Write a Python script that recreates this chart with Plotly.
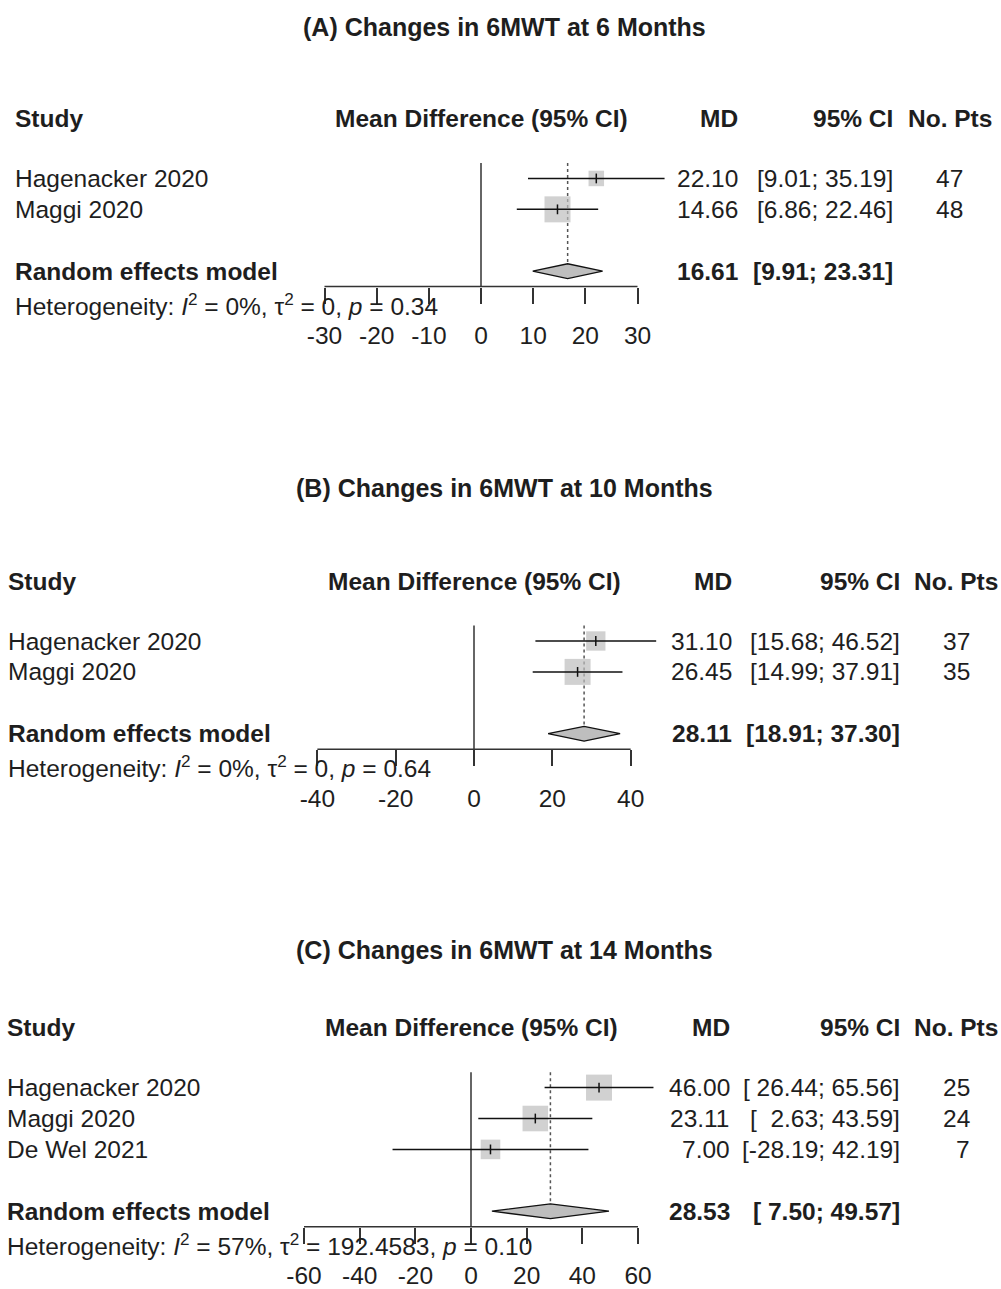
import math
import plotly.graph_objects as go

# ---------------- data ----------------
# (A) 6 months
a_title = "(A) Changes in 6MWT at 6 Months"
a_studies = ["Hagenacker 2020", "Maggi 2020"]
a_md = [22.10, 14.66]
a_lower = [9.01, 6.86]
a_upper = [35.19, 22.46]
a_pts = [47, 48]
a_ci_text = ["[9.01; 35.19]", "[6.86; 22.46]"]
a_pooled = [16.61, 9.91, 23.31]
a_pooled_ci_text = "[9.91; 23.31]"
a_i2 = "0%"
a_tau2 = 0.0
a_tau2_text = "0"
a_p = "0.34"
a_ticks = [-30, -20, -10, 0, 10, 20, 30]

# (B) 10 months
b_title = "(B) Changes in 6MWT at 10 Months"
b_studies = ["Hagenacker 2020", "Maggi 2020"]
b_md = [31.10, 26.45]
b_lower = [15.68, 14.99]
b_upper = [46.52, 37.91]
b_pts = [37, 35]
b_ci_text = ["[15.68; 46.52]", "[14.99; 37.91]"]
b_pooled = [28.11, 18.91, 37.30]
b_pooled_ci_text = "[18.91; 37.30]"
b_i2 = "0%"
b_tau2 = 0.0
b_tau2_text = "0"
b_p = "0.64"
b_ticks = [-40, -20, 0, 20, 40]

# (C) 14 months
c_title = "(C) Changes in 6MWT at 14 Months"
c_studies = ["Hagenacker 2020", "Maggi 2020", "De Wel 2021"]
c_md = [46.00, 23.11, 7.00]
c_lower = [26.44, 2.63, -28.19]
c_upper = [65.56, 43.59, 42.19]
c_pts = [25, 24, 7]
c_ci_text = ["[\u00a026.44; 65.56]", "[\u00a0\u00a02.63; 43.59]", "[-28.19; 42.19]"]
c_pooled = [28.53, 7.50, 49.57]
c_pooled_ci_text = "[\u00a07.50; 49.57]"
c_i2 = "57%"
c_tau2 = 192.4583
c_tau2_text = "192.4583"
c_p = "0.10"
c_ticks = [-60, -40, -20, 0, 20, 40, 60]

# ---------------- page geometry / styles ----------------
W, H = 1001, 1289
ROW_PX = 31
FONT = "Liberation Sans, Arial, sans-serif"
FS = 24.5
TXT = "#1e1e1e"
BOX_GRAY = "#bebebe"
MAX_BOX = 26

panels = [
    dict(title=a_title, studies=a_studies, md=a_md, lo=a_lower, hi=a_upper, pts=a_pts,
         ci=a_ci_text, pooled=a_pooled, pooled_ci=a_pooled_ci_text, i2=a_i2,
         tau2=a_tau2, tau2_text=a_tau2_text, p=a_p, ticks=a_ticks,
         zero_px=481, px_per_unit=313 / 60, row1_px=179, title_px=27,
         study_px=15, md_px=738, ci_px=893, n_px=963, nhdr_px=992),
    dict(title=b_title, studies=b_studies, md=b_md, lo=b_lower, hi=b_upper, pts=b_pts,
         ci=b_ci_text, pooled=b_pooled, pooled_ci=b_pooled_ci_text, i2=b_i2,
         tau2=b_tau2, tau2_text=b_tau2_text, p=b_p, ticks=b_ticks,
         zero_px=474, px_per_unit=313.3 / 80, row1_px=643, title_px=490,
         study_px=8, md_px=732, ci_px=900, n_px=970, nhdr_px=998),
    dict(title=c_title, studies=c_studies, md=c_md, lo=c_lower, hi=c_upper, pts=c_pts,
         ci=c_ci_text, pooled=c_pooled, pooled_ci=c_pooled_ci_text, i2=c_i2,
         tau2=c_tau2, tau2_text=c_tau2_text, p=c_p, ticks=c_ticks,
         zero_px=471, px_per_unit=334 / 120, row1_px=1091, title_px=953,
         study_px=7, md_px=730, ci_px=900, n_px=970, nhdr_px=998),
]

fig = go.Figure()
annotations = []
layout_axes = {}


def ann(text, x_px, y, yref, anchor="left", bold=False, size=FS):
    if bold:
        text = "<b>" + text + "</b>"
    annotations.append(dict(text=text, x=x_px / W, xref="paper", y=y, yref=yref,
                            xanchor=anchor, yanchor="middle", showarrow=False,
                            borderpad=0, borderwidth=0,
                            font=dict(family=FONT, size=size, color=TXT)))


for k, P in enumerate(panels):
    sfx = "" if k == 0 else str(k + 1)
    xa, ya = "x" + sfx, "y" + sfx
    n = len(P["studies"])
    rows = list(range(1, n + 1))
    pooled_row = n + 2
    axis_row = pooled_row + 0.5

    # scales: x in data units, y in row units
    x0 = -P["zero_px"] / P["px_per_unit"]
    x1 = (W - P["zero_px"]) / P["px_per_unit"]
    y_top = 1 - P["row1_px"] / ROW_PX
    y_bot = 1 + (H - P["row1_px"]) / ROW_PX
    axis_pos = 1 - (P["row1_px"] + (axis_row - 1) * ROW_PX) / H

    xkey = "xaxis" + sfx
    ykey = "yaxis" + sfx
    xdef = dict(range=[x0, x1], domain=[0, 1], anchor="free", position=axis_pos,
                showgrid=False, zeroline=False, showline=False,
                tickmode="array", tickvals=P["ticks"],
                ticktext=[str(t) for t in P["ticks"]],
                ticks="outside", ticklen=16, tickwidth=1.5, tickcolor="#333",
                ticklabelstandoff=11,
                tickfont=dict(family=FONT, size=FS, color=TXT), fixedrange=True)
    ydef = dict(range=[y_bot, y_top], domain=[0, 1], visible=False, fixedrange=True)
    if k > 0:
        xdef["overlaying"] = "x"
        ydef["overlaying"] = "y"
    layout_axes[xkey] = xdef
    layout_axes[ykey] = ydef

    # box sizes follow inverse-variance (random effects) weights
    se = [(h - l) / (2 * 1.959964) for l, h in zip(P["lo"], P["hi"])]
    w_sd = [math.sqrt(s * s + P["tau2"]) for s in se]
    sizes = [MAX_BOX * min(w_sd) / s for s in w_sd]

    # horizontal axis line across the tick range
    fig.add_trace(go.Scatter(x=[min(P["ticks"]), max(P["ticks"])], y=[axis_row, axis_row],
                             mode="lines", line=dict(color="#333", width=1.5),
                             xaxis=xa, yaxis=ya, hoverinfo="skip"))
    # line of no effect
    fig.add_trace(go.Scatter(x=[0, 0], y=[0.5, axis_row], mode="lines",
                             line=dict(color="#333", width=1.5),
                             xaxis=xa, yaxis=ya, hoverinfo="skip"))
    # pooled estimate reference line
    fig.add_trace(go.Scatter(x=[P["pooled"][0]] * 2, y=[0.5, pooled_row - 0.25],
                             mode="lines", line=dict(color="#555", width=1.5, dash="dot"),
                             xaxis=xa, yaxis=ya, hoverinfo="skip"))
    # study boxes
    fig.add_trace(go.Scatter(x=P["md"], y=rows, mode="markers",
                             marker=dict(symbol="square", size=sizes, color=BOX_GRAY,
                                         line=dict(width=0)),
                             xaxis=xa, yaxis=ya, hoverinfo="skip"))
    # confidence intervals
    cx, cy = [], []
    for r, l, h in zip(rows, P["lo"], P["hi"]):
        cx += [l, h, None]
        cy += [r, r, None]
    fig.add_trace(go.Scatter(x=cx, y=cy, mode="lines", line=dict(color="#111", width=1.5),
                             xaxis=xa, yaxis=ya, hoverinfo="skip"))
    # point estimate ticks
    fig.add_trace(go.Scatter(x=P["md"], y=rows, mode="markers",
                             marker=dict(symbol="line-ns-open", size=7, color="#111",
                                         line=dict(color="#111", width=1.5)),
                             xaxis=xa, yaxis=ya, hoverinfo="skip"))
    # pooled diamond
    est, lo, hi = P["pooled"]
    dh = 0.24
    fig.add_trace(go.Scatter(x=[lo, est, hi, est, lo],
                             y=[pooled_row, pooled_row - dh, pooled_row, pooled_row + dh, pooled_row],
                             mode="lines", fill="toself", fillcolor=BOX_GRAY,
                             line=dict(color="#111", width=1.3),
                             xaxis=xa, yaxis=ya, hoverinfo="skip"))

    # text
    annotations.append(dict(text="<b>" + P["title"] + "</b>", x=504 / W, xref="paper",
                            y=1 - P["title_px"] / H, yref="paper", xanchor="center",
                            yanchor="middle", showarrow=False,
                            font=dict(family=FONT, size=25, color=TXT)))
    hdr = -0.94
    ann("Study", P["study_px"], hdr, ya, bold=True)
    annotations.append(dict(text="<b>Mean Difference (95% CI)</b>", x=0, xref=xa,
                            y=hdr, yref=ya, xanchor="center", yanchor="middle",
                            showarrow=False, font=dict(family=FONT, size=FS, color=TXT)))
    ann("MD", P["md_px"], hdr, ya, anchor="right", bold=True)
    ann("95% CI", P["ci_px"], hdr, ya, anchor="right", bold=True)
    ann("No. Pts", P["nhdr_px"], hdr, ya, anchor="right", bold=True)

    for r, name, md, ci, npt in zip(rows, P["studies"], P["md"], P["ci"], P["pts"]):
        ann(name, P["study_px"], r, ya)
        ann(f"{md:.2f}", P["md_px"], r, ya, anchor="right")
        ann(ci, P["ci_px"], r, ya, anchor="right")
        ann(str(npt), P["n_px"], r, ya, anchor="right")

    ann("Random effects model", P["study_px"], pooled_row, ya, bold=True)
    ann(f"{est:.2f}", P["md_px"], pooled_row, ya, anchor="right", bold=True)
    ann(P["pooled_ci"], P["ci_px"], pooled_row, ya, anchor="right", bold=True)
    het = (f"Heterogeneity: <i>I</i><sup>2</sup> = {P['i2']}, \u03c4<sup>2</sup> = "
           f"{P['tau2_text']}, <i>p</i> = {P['p']}")
    ann(het, P["study_px"], pooled_row + 1.07, ya)

fig.update_layout(
    width=W, height=H,
    margin=dict(l=0, r=0, t=0, b=0),
    paper_bgcolor="white", plot_bgcolor="rgba(0,0,0,0)",
    showlegend=False,
    annotations=annotations,
    **layout_axes,
)

fig.write_html("out.html")
